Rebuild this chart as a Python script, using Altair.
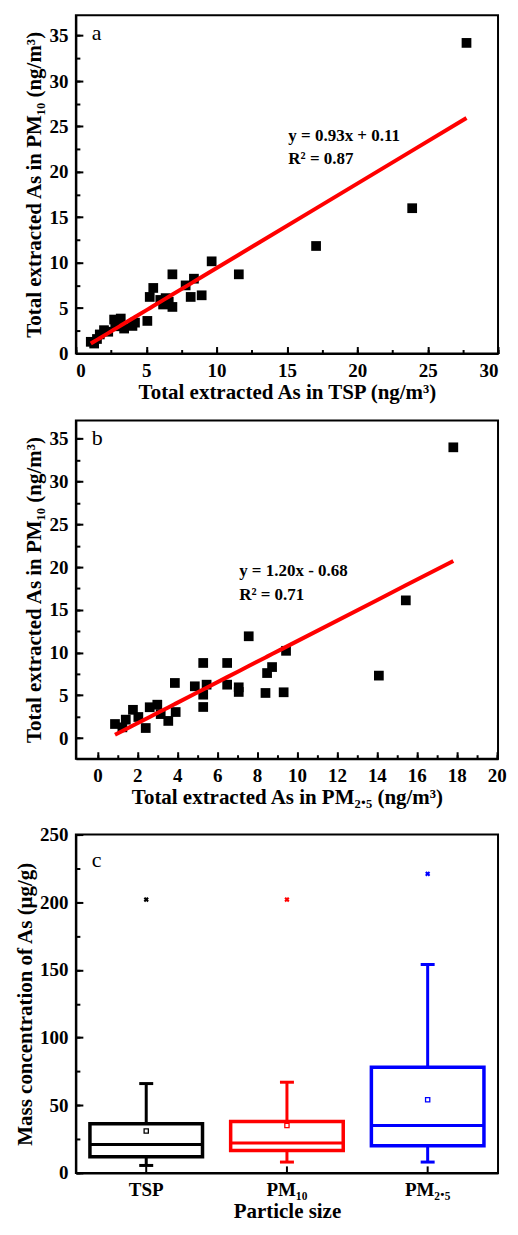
import altair as alt
import pandas as pd

# ---------------- Panel a: TSP vs PM10 ----------------
tsp_a = [27.76, 23.9, 17.07, 9.65, 11.58, 6.86, 8.39, 7.8, 5.5, 8.94, 5.25, 8.16,
         6.38, 6.0, 6.6, 6.86, 6.2, 5.08, 4.02, 4.2, 3.43, 3.19, 2.72, 2.8, 3.1,
         2.3, 2.0, 1.7, 1.5, 1.3, 1.06]
pm10_a = [34.2, 16.0, 11.84, 10.15, 8.72, 8.72, 8.24, 7.5, 7.22, 6.41, 6.23, 6.23,
          6.1, 5.9, 5.7, 5.13, 5.4, 3.59, 3.04, 3.4, 2.75, 3.85, 3.74, 3.0, 3.3,
          2.4, 2.57, 2.1, 1.6, 1.1, 1.29]
slope_a, icpt_a = 0.93, 0.11
eq_a = ["y = 0.93x + 0.11", "R² = 0.87"]

# ---------------- Panel b: PM2.5 vs PM10 ----------------
pm25_b = [17.83, 15.45, 14.1, 7.58, 9.45, 9.33, 8.75, 8.5, 8.42, 7.08, 7.08, 6.5, 6.5,
          5.47, 5.3, 5.3, 5.3, 4.88, 3.88, 3.92, 3.55, 3.17, 3.0, 2.62, 2.42, 2.05,
          1.78, 1.42, 1.25, 0.88]
pm10_b = [34.0, 16.1, 7.3, 11.9, 10.2, 5.35, 8.3, 7.6, 5.27, 5.93, 5.39, 8.78, 6.24,
          6.24, 8.78, 5.07, 3.63, 6.05, 6.44, 3.04, 2.0, 2.8, 3.9, 3.6, 1.17, 2.46,
          3.3, 2.15, 1.25, 1.64]
slope_b, icpt_b = 1.20, -0.68
eq_b = ["y = 1.20x - 0.68", "R² = 0.71"]

# ---------------- Panel c: box plots ----------------
groups = ["TSP", "PM₁₀", "PM₂.₅"]
whisk_lo = [5.5, 8.0, 8.0]
q1 = [12.0, 16.5, 20.0]
median = [21.0, 22.0, 35.0]
q3 = [36.4, 38.0, 78.0]
whisk_hi = [66.0, 67.0, 154.0]
mean = [31.0, 35.0, 54.0]
outlier = [202.0, 202.0, 221.0]
colors = ["#000000", "#ff0000", "#0000ff"]

FONT = "Liberation Serif"
W, H = 423, 339
LABEL_PAD = 15


def frange(a, b, s):
    out = []
    v = a
    while v <= b + 1e-9:
        out.append(round(v, 4))
        v += s
    return out


def major_axis(title, values, orient, title_pad):
    return alt.Axis(title=title, values=values, orient=orient,
                    tickSize=alt.expr("-7"), labelPadding=LABEL_PAD,
                    titlePadding=title_pad)


def minor_axis(values, orient):
    return alt.Axis(title=None, values=values, orient=orient, labels=False,
                    domain=False, tickSize=alt.expr("-4"))


def scatter_panel(xs, ys, slope, icpt, eq, xdom, ydom, xmaj, xmin, ymaj, ymin,
                  xtitle, ytitle, letter, eq_pos):
    df = pd.DataFrame({"x": xs, "y": ys})
    xs_ = alt.Scale(domain=xdom, nice=False, zero=False)
    ys_ = alt.Scale(domain=ydom, nice=False, zero=False)
    pts = alt.Chart(df).mark_point(shape="square", filled=True, size=95, color="black",
                                   opacity=1).encode(
        x=alt.X("x:Q", scale=xs_, axis=major_axis(xtitle, xmaj, "bottom", 1)),
        y=alt.Y("y:Q", scale=ys_, axis=major_axis(ytitle, ymaj, "left", 4)))
    minor = alt.Chart(df).mark_point(opacity=0).encode(
        x=alt.X("x:Q", scale=xs_, axis=minor_axis(xmin, "bottom")),
        y=alt.Y("y:Q", scale=ys_, axis=minor_axis(ymin, "left")))
    line = alt.Chart(df).transform_calculate(
        fit=f"{slope} * datum.x + ({icpt})"
    ).mark_line(color="#ff0000", strokeWidth=4).encode(
        x=alt.X("x:Q", axis=None), y=alt.Y("fit:Q", axis=None))
    tdf = pd.DataFrame({"t": eq, "x": [eq_pos[0]] * 2, "y": eq_pos[1:]})
    txt = alt.Chart(tdf).mark_text(font=FONT, fontWeight="bold", fontSize=17,
                                   align="left", baseline="middle", color="black").encode(
        x=alt.X("x:Q", axis=None), y=alt.Y("y:Q", axis=None), text="t:N")
    lab = alt.Chart(pd.DataFrame({"t": [letter]})).mark_text(
        font=FONT, fontSize=22, align="left", baseline="middle", color="black"
    ).encode(x=alt.value(16), y=alt.value(18), text="t:N")
    return alt.layer(pts, minor, line, txt, lab).resolve_axis(
        x="independent", y="independent").properties(width=W, height=H)


panel_a = scatter_panel(
    tsp_a, pm10_a, slope_a, icpt_a, eq_a, [0, 30], [0, 37.25],
    frange(0, 30, 5), frange(0, 30, 2.5), frange(0, 35, 5), frange(0, 35, 2.5),
    "Total extracted As in TSP (ng/m³)", "Total extracted As in PM₁₀ (ng/m³)", "a",
    (15.1, 24.0, 21.4))

panel_b = scatter_panel(
    pm25_b, pm10_b, slope_b, icpt_b, eq_b, [-1.08, 20.07], [-2.42, 37.15],
    frange(0, 20, 2), frange(0, 20, 1), frange(0, 35, 5), frange(0, 35, 2.5),
    "Total extracted As in PM₂.₅ (ng/m³)", "Total extracted As in PM₁₀ (ng/m³)", "b",
    (7.1, 19.5, 16.7))

dfc = pd.DataFrame({"group": groups, "lo": whisk_lo, "q1": q1, "med": median, "q3": q3,
                    "hi": whisk_hi, "mean": mean, "out": outlier})
xc = alt.X("group:N", sort=groups,
           scale=alt.Scale(paddingInner=0, paddingOuter=0),
           axis=alt.Axis(title="Particle size", labelAngle=0, tickSize=alt.expr("-7"),
                         labelPadding=LABEL_PAD, titlePadding=1))
cc = alt.Color("group:N", scale=alt.Scale(domain=groups, range=colors), legend=None)
basec = alt.Chart(dfc)
ysc = alt.Scale(domain=[0, 250], nice=False)
yc = alt.Y("q1:Q", scale=ysc,
           axis=major_axis("Mass concentration of As (μg/g)", frange(0, 250, 50), "left", 4))


def ny(field):
    return alt.Y(field, axis=None)


box = basec.mark_bar(filled=False, strokeWidth=3.5, opacity=1,
                     width=alt.RelativeBandSize(0.8)).encode(
    x=xc, y=yc, y2="q3:Q", stroke=cc)
minor_c = basec.mark_point(opacity=0).encode(
    x=xc, y=alt.Y("q1:Q", scale=ysc, axis=minor_axis(frange(0, 250, 25), "left")))
wh_up = basec.mark_rule(strokeWidth=3, opacity=1).encode(x=xc, y=ny("q3:Q"), y2="hi:Q", color=cc)
wh_lo = basec.mark_rule(strokeWidth=3, opacity=1).encode(x=xc, y=ny("lo:Q"), y2="q1:Q", color=cc)
cap_up = basec.mark_tick(orient="horizontal", size=14, thickness=3, opacity=1).encode(
    x=xc, y=ny("hi:Q"), color=cc)
cap_lo = basec.mark_tick(orient="horizontal", size=14, thickness=3, opacity=1).encode(
    x=xc, y=ny("lo:Q"), color=cc)
med = basec.mark_tick(orient="horizontal", size=113, thickness=3, opacity=1).encode(
    x=xc, y=ny("med:Q"), color=cc)
mn = basec.mark_point(shape="square", size=18, filled=False, strokeWidth=1.3, opacity=1).encode(
    x=xc, y=ny("mean:Q"), color=cc)
outl = basec.mark_point(shape="cross", angle=45, size=28, filled=True, opacity=1).encode(
    x=xc, y=ny("out:Q"), color=cc)
labc = alt.Chart(pd.DataFrame({"t": ["c"]})).mark_text(
    font=FONT, fontSize=22, align="left", baseline="middle", color="black"
).encode(x=alt.value(16), y=alt.value(25), text="t:N")
panel_c = alt.layer(box, minor_c, wh_up, wh_lo, cap_up, cap_lo, med, mn, outl, labc).resolve_axis(
    y="independent").properties(width=W, height=H)

chart = alt.vconcat(panel_a, panel_b, panel_c, spacing=16).properties(
    padding={"left": 5, "top": 5, "right": 2, "bottom": 2}
).configure_view(
    stroke="black", strokeWidth=2
).configure_axis(
    domainColor="black", domainWidth=2, tickColor="black", tickWidth=2, grid=False,
    labelFont=FONT, labelFontWeight="bold", labelFontSize=19, labelColor="black",
    titleFont=FONT, titleFontWeight="bold", titleFontSize=21, titleColor="black",
)

chart.save("out.html", embed_options={"renderer": "svg", "actions": False})
